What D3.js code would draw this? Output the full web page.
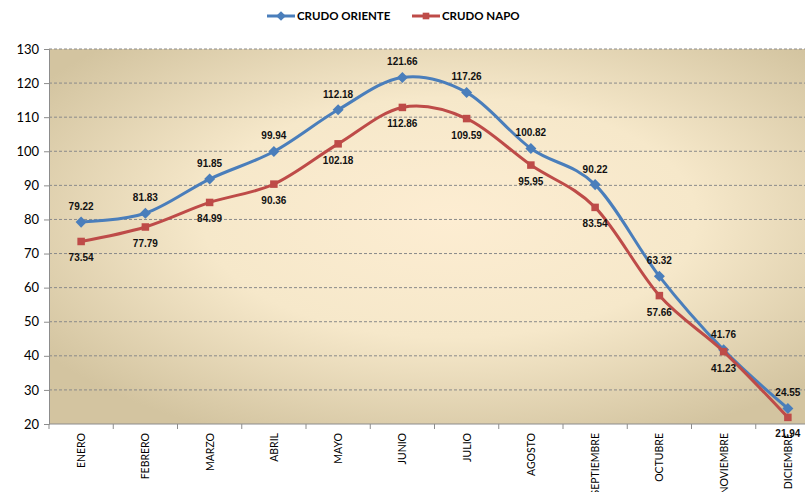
<!DOCTYPE html>
<html>
<head>
<meta charset="utf-8">
<script src="https://cdn.jsdelivr.net/npm/d3@7"></script>
<style>
  body { margin: 0; background: #fff; }
  svg { display: block; }
</style>
</head>
<body>
<div id="chart"></div>
<script>
// data
const months = ["ENERO", "FEBRERO", "MARZO", "ABRIL", "MAYO", "JUNIO", "JULIO",
  "AGOSTO", "SEPTIEMBRE", "OCTUBRE", "NOVIEMBRE", "DICIEMBRE"];
const oriente = [79.22, 81.83, 91.85, 99.94, 112.18, 121.66, 117.26, 100.82, 90.22, 63.32, 41.76, 24.55];
const napo = [73.54, 77.79, 84.99, 90.36, 102.18, 112.86, 109.59, 95.95, 83.54, 57.66, 41.23, 21.94];
const yTicks = [20, 30, 40, 50, 60, 70, 80, 90, 100, 110, 120, 130];

const width = 805, height = 492;
const plotLeft = 49, plotRight = 820, plotTop = 49, plotBottom = 424;

const svg = d3.select("#chart")
  .append("svg")
  .attr("width", width)
  .attr("height", height);

const defs = svg.append("defs");
const grad = defs.append("radialGradient")
  .attr("id", "bg")
  .attr("cx", "0.52").attr("cy", "0.45")
  .attr("r", "0.64");
grad.append("stop").attr("offset", "0%").attr("stop-color", "#fdedd2");
grad.append("stop").attr("offset", "50%").attr("stop-color", "#f6e8ca");
grad.append("stop").attr("offset", "100%").attr("stop-color", "#d3c4a0");

const x = d3.scaleBand().domain(months).range([plotLeft, plotRight]);
const y = d3.scaleLinear().domain([20, 130]).range([plotBottom, plotTop]);
const cx = d => x(d) + x.bandwidth() / 2;

// plot background
svg.append("rect")
  .attr("x", plotLeft).attr("y", plotTop)
  .attr("width", plotRight - plotLeft).attr("height", plotBottom - plotTop)
  .attr("fill", "url(#bg)");

// gridlines
svg.append("g")
  .selectAll("line")
  .data(yTicks.filter(t => t > 20))
  .enter()
  .append("line")
  .attr("x1", plotLeft).attr("x2", plotRight)
  .attr("y1", d => y(d)).attr("y2", d => y(d))
  .attr("stroke", "#8a8a8a")
  .attr("stroke-width", 1)
  .attr("stroke-dasharray", "3,2");

// y axis
const yAxis = svg.append("g")
  .attr("transform", "translate(" + plotLeft + ",0)")
  .call(d3.axisLeft(y).tickValues(yTicks).tickSize(5).tickPadding(5));
yAxis.select(".domain").attr("stroke", "#8c8c8c");
yAxis.selectAll(".tick line").attr("stroke", "#8c8c8c");
yAxis.selectAll("text")
  .attr("font-family", "Lato, 'Open Sans', sans-serif")
  .attr("font-size", "13px")
  .attr("fill", "#000");

// x axis: baseline, ticks on category edges, rotated labels
svg.append("line")
  .attr("x1", plotLeft).attr("x2", plotRight)
  .attr("y1", plotBottom).attr("y2", plotBottom)
  .attr("stroke", "#8c8c8c");

svg.append("g")
  .selectAll("line")
  .data(months.map(m => x(m)).concat([plotRight]))
  .enter()
  .append("line")
  .attr("x1", d => d).attr("x2", d => d)
  .attr("y1", plotBottom).attr("y2", plotBottom + 5)
  .attr("stroke", "#8c8c8c");

// long names run past the bottom edge, as in the reference
svg.append("g")
  .selectAll("text")
  .data(months)
  .enter()
  .append("text")
  .attr("transform", d => "translate(" + (cx(d) + 4) + "," + (plotBottom + 9) + ") rotate(-90)")
  .attr("text-anchor", "end")
  .attr("font-family", "Lato, 'Open Sans', sans-serif")
  .attr("font-size", "10.5px")
  .attr("fill", "#000")
  .text(d => d);

// series
const line = d3.line()
  .x((d, i) => cx(months[i]))
  .y(d => y(d))
  .curve(d3.curveCardinal.tension(0));

const series = [
  { name: "CRUDO ORIENTE", values: oriente, color: "#4a7ebb", marker: "diamond", dy: -12 },
  { name: "CRUDO NAPO", values: napo, color: "#be4b48", marker: "square", dy: 20 }
];

series.forEach(s => {
  svg.append("path")
    .datum(s.values)
    .attr("d", line)
    .attr("fill", "none")
    .attr("stroke", s.color)
    .attr("stroke-width", 3);

  svg.append("g")
    .selectAll("path")
    .data(s.values)
    .enter()
    .append("path")
    .attr("transform", (d, i) => "translate(" + cx(months[i]) + "," + y(d) + ")")
    .attr("d", s.marker === "diamond"
      ? d3.symbol().type(d3.symbolDiamond2).size(78)()
      : d3.symbol().type(d3.symbolSquare2).size(72)())
    .attr("fill", s.color);

  svg.append("g")
    .selectAll("text")
    .data(s.values)
    .enter()
    .append("text")
    .attr("x", (d, i) => cx(months[i]))
    .attr("y", d => y(d) + s.dy)
    .attr("text-anchor", "middle")
    .attr("font-family", "'Liberation Sans', Arial, sans-serif")
    .attr("font-size", "10px")
    .attr("font-weight", "bold")
    .attr("fill", "#111")
    .text(d => d.toFixed(2));
});

// legend
const legend = svg.append("g").attr("transform", "translate(267,16)");
series.forEach((s, i) => {
  const g = legend.append("g").attr("transform", "translate(" + (i * 145) + ",0)");
  g.append("line")
    .attr("x1", 0).attr("x2", 28)
    .attr("stroke", s.color)
    .attr("stroke-width", 3);
  g.append("path")
    .attr("transform", "translate(14,0)")
    .attr("d", s.marker === "diamond"
      ? d3.symbol().type(d3.symbolDiamond2).size(60)()
      : d3.symbol().type(d3.symbolSquare2).size(56)())
    .attr("fill", s.color);
  g.append("text")
    .attr("x", 30)
    .attr("y", 4)
    .attr("font-family", "Lato, 'Open Sans', sans-serif")
    .attr("font-size", "11.5px")
    .attr("font-weight", "bold")
    .attr("fill", "#000")
    .text(s.name);
});
</script>
</body>
</html>
